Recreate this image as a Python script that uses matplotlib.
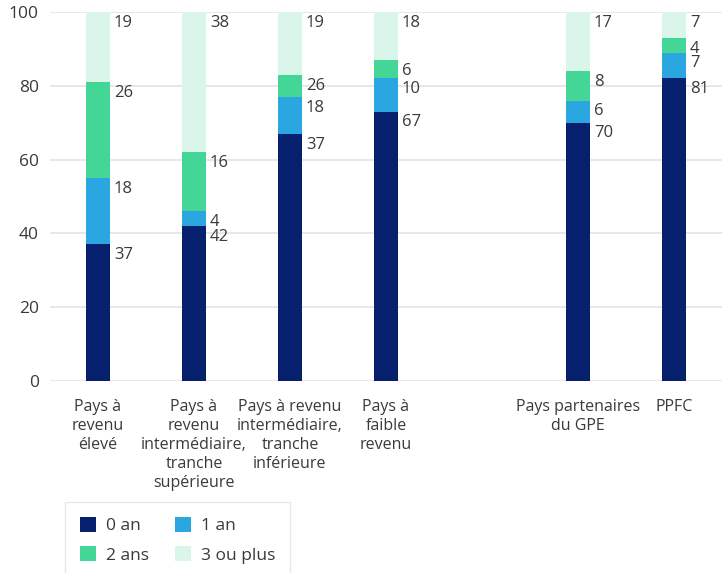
import numpy as np
import matplotlib
matplotlib.use("Agg")
from matplotlib import pyplot as plt
from matplotlib.patches import Patch

plt.rcParams['font.family'] = ['Open Sans', 'DejaVu Sans']

categories = ["Pays à\nrevenu\nélevé",
              "Pays à\nrevenu\nintermédiaire,\ntranche\nsupérieure",
              "Pays à revenu\nintermédiaire,\ntranche\ninférieure",
              "Pays à\nfaible\nrevenu",
              "Pays partenaires\ndu GPE",
              "PPFC"]
positions = [0, 1, 2, 3, 5, 6]
series = ["0 an", "1 an", "2 ans", "3 ou plus"]

# bar heights as drawn
an0 = [37, 42, 67, 73, 70, 82]
an1 = [18, 4, 10, 9, 6, 7]
an2 = [26, 16, 6, 5, 8, 4]
an3 = [19, 38, 17, 13, 16, 7]

# labels as printed in the source
lab0 = ["37", "42", "37", "67", "70", "81"]
lab1 = ["18", "4", "18", "10", "6", "7"]
lab2 = ["26", "16", "26", "6", "8", "4"]
lab3 = ["19", "38", "19", "18", "17", "7"]

colors = ["#06206e", "#2aa7e0", "#44d696", "#daf6eb"]
txt = "#3a3a3a"

fig = plt.figure(figsize=(7.28, 5.73), dpi=100)
ax = fig.add_axes([50/728, 1-381/573, 672/728, 369/573])

bottom = np.zeros(len(positions))
for vals, labs, col in zip([an0, an1, an2, an3], [lab0, lab1, lab2, lab3], colors):
    ax.bar(positions, vals, bottom=bottom, width=0.25, color=col, zorder=3)
    top = bottom + np.array(vals)
    for x, t, l in zip(positions, top, labs):
        ax.annotate(l, (x + 0.165, min(t, 100)), xytext=(0, -2),
                    textcoords='offset points', ha='left', va='top',
                    fontsize=12, color=txt, zorder=4, annotation_clip=False)
    bottom = top

ax.set_xlim(-0.5, 6.5)
ax.set_ylim(0, 100)
ax.set_yticks(range(0, 101, 20))
ax.set_xticks(positions)
ax.set_xticklabels(categories, fontsize=11.5, color=txt, linespacing=1.25, va='top')
ax.tick_params(axis='y', length=0, pad=8, labelsize=12.5, labelcolor=txt)
ax.tick_params(axis='x', length=0, pad=13)
ax.yaxis.grid(True, color="#e3e3e3", linewidth=1.2, zorder=0)
for s in ax.spines.values():
    s.set_visible(False)

# order so rows read 0 an, 1 an / 2 ans, 3 ou plus
order = [0, 2, 1, 3]
handles = [Patch(facecolor=colors[i], edgecolor='none') for i in order]
leg = fig.legend(handles, [series[i] for i in order], loc='upper left',
                 bbox_to_anchor=(65/728, 1-502/573),
                 ncol=2, fontsize=12.5, frameon=True, fancybox=False, edgecolor="#e0e0e0",
                 handlelength=0.95, handleheight=0.95, columnspacing=1.5,
                 borderpad=0.85, labelspacing=0.7, handletextpad=0.55,
                 borderaxespad=0)
for t in leg.get_texts():
    t.set_color(txt)

fig.savefig("out.png", dpi=100)
